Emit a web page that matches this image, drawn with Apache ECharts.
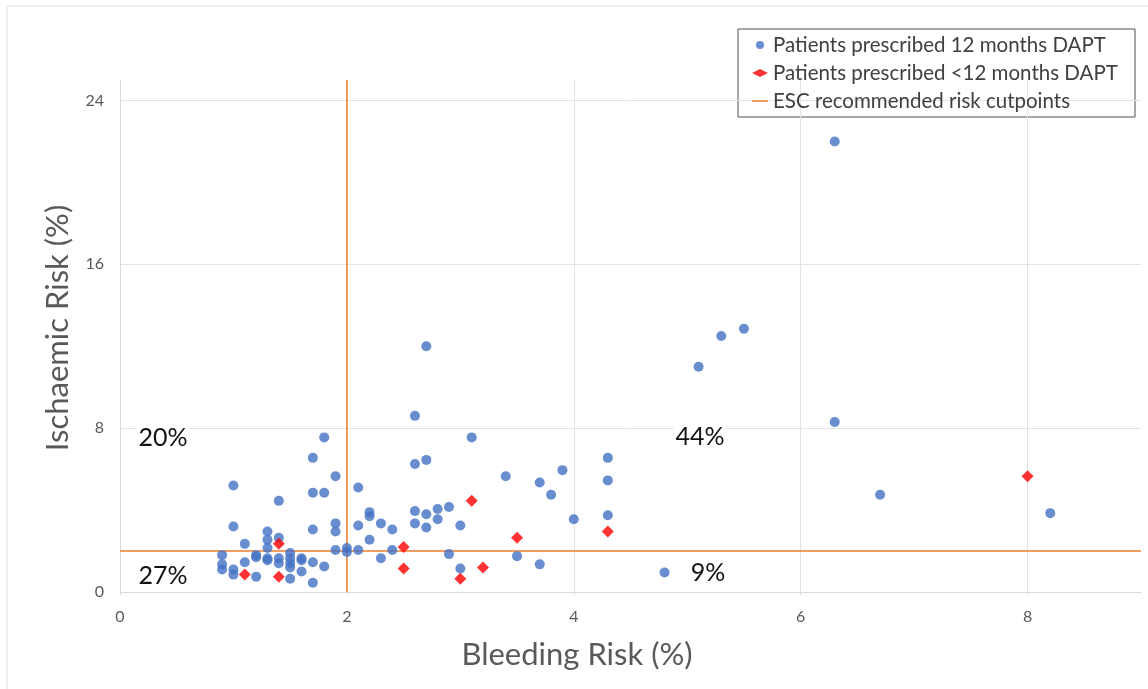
<!DOCTYPE html>
<html>
<head>
<meta charset="utf-8">
<script src="https://cdn.jsdelivr.net/npm/echarts@6/dist/echarts.min.js"></script>
<style>html,body{margin:0;padding:0;background:#fff}#c{width:1148px;height:689px}</style>
</head>
<body>
<div id="c"></div>
<script>
// Patients prescribed 12 months DAPT: [bleeding risk %, ischaemic risk %]
const blue12 = [
  [0.9,1.8],[0.9,1.35],[0.9,1.1],[1.0,5.2],[1.0,3.2],[1.0,1.1],[1.0,0.85],
  [1.1,2.35],[1.1,1.45],[1.2,1.8],[1.2,1.7],[1.2,0.75],
  [1.3,2.95],[1.3,2.55],[1.3,2.15],[1.3,1.65],[1.3,1.55],
  [1.4,4.45],[1.4,2.65],[1.4,1.65],[1.4,1.4],
  [1.5,1.9],[1.5,1.65],[1.5,1.4],[1.5,1.2],[1.5,0.65],
  [1.6,1.65],[1.6,1.55],[1.6,1.0],
  [1.7,6.55],[1.7,4.85],[1.7,3.05],[1.7,1.45],[1.7,0.45],
  [1.8,7.55],[1.8,4.85],[1.8,1.25],
  [1.9,5.65],[1.9,3.35],[1.9,2.95],[1.9,2.05],
  [2.0,2.15],[2.0,1.95],
  [2.1,5.1],[2.1,3.25],[2.1,2.05],
  [2.2,3.9],[2.2,3.7],[2.2,2.55],
  [2.3,3.35],[2.3,1.65],[2.4,3.05],[2.4,2.05],
  [2.6,8.6],[2.6,6.25],[2.6,3.95],[2.6,3.35],
  [2.7,12.0],[2.7,6.45],[2.7,3.8],[2.7,3.15],
  [2.8,4.05],[2.8,3.55],[2.9,4.15],[2.9,1.85],
  [3.0,3.25],[3.0,1.15],[3.1,7.55],
  [3.4,5.65],[3.5,1.75],[3.7,5.35],[3.7,1.35],[3.8,4.75],[3.9,5.95],[4.0,3.55],
  [4.3,6.55],[4.3,5.45],[4.3,3.75],[4.8,0.95],
  [5.1,11.0],[5.3,12.5],[5.5,12.85],[6.3,22.0],[6.3,8.3],[6.7,4.75],[8.2,3.85]
];
// Patients prescribed <12 months DAPT
const redLess12 = [
  [1.1,0.85],[1.4,2.35],[1.4,0.75],[2.5,2.2],[2.5,1.15],[3.0,0.65],
  [3.1,4.45],[3.2,1.2],[3.5,2.65],[4.3,2.95],[8.0,5.65]
];
// ESC recommended risk cutpoints
const cutBleeding = 2;
const cutIschaemic = 2;
// Axis ranges / ticks
const xRange = [0, 9], xStep = 2;
const yRange = [0, 25], yStep = 8;
// Quadrant percentages
const quadrantLabels = ['20%', '44%', '27%', '9%'];
const seriesNames = ['Patients prescribed 12 months DAPT', 'Patients prescribed <12 months DAPT', 'ESC recommended risk cutpoints'];

const FONT = 'Lato, "Open Sans", sans-serif';
const chart = echarts.init(document.getElementById('c'), null, {renderer: 'canvas'});
const axisCommon = {
  type: 'value',
  axisLine: {show: true, lineStyle: {color: '#d9d9d9', width: 1}},
  axisTick: {show: true, length: 3, lineStyle: {color: '#d9d9d9'}},
  splitLine: {show: true, showMaxLine: false, lineStyle: {color: '#e3e3e3', width: 1}},
  axisLabel: {color: '#595959', fontSize: 16, fontFamily: FONT, showMaxLabel: false}
};
const quadStyle = (t) => ({text: t, fill: '#111', font: '25px ' + FONT, textAlign: 'center', textVerticalAlign: 'middle', backgroundColor: '#fff', padding: [0, 2]});
const option = {
  backgroundColor: '#fff',
  animation: false,
  grid: {left: 120, right: 7, top: 80, bottom: 97, containLabel: false},
  xAxis: Object.assign({}, axisCommon, {min: xRange[0], max: xRange[1], interval: xStep,
    axisLabel: Object.assign({}, axisCommon.axisLabel, {margin: 17})}),
  yAxis: Object.assign({}, axisCommon, {min: yRange[0], max: yRange[1], interval: yStep,
    axisTick: {show: false},
    axisLabel: Object.assign({}, axisCommon.axisLabel, {margin: 16})}),
  legend: {
    orient: 'vertical', left: 752, top: 34, padding: 0, itemGap: 6,
    itemWidth: 16, itemHeight: 8,
    textStyle: {color: '#404040', fontSize: 20.5, fontFamily: FONT, lineHeight: 22},
    data: [
      {name: seriesNames[0], icon: 'circle'},
      {name: seriesNames[1], icon: 'diamond', itemStyle: {color: '#ff0000'}},
      {name: seriesNames[2], icon: 'path://M0,0H16V1.5H0Z'}
    ]
  },
  series: [
    {name: seriesNames[2], type: 'line', symbol: 'none', silent: true,
     lineStyle: {color: '#ED7D31', width: 1.5}, itemStyle: {color: '#ED7D31'},
     data: [[cutBleeding, yRange[0]], [cutBleeding, yRange[1]]], z: 1},
    {name: seriesNames[2], type: 'line', symbol: 'none', silent: true,
     lineStyle: {color: '#ED7D31', width: 1.5}, itemStyle: {color: '#ED7D31'},
     data: [[xRange[0], cutIschaemic], [xRange[1], cutIschaemic]], z: 1},
    {name: seriesNames[0], type: 'scatter', symbol: 'circle', symbolSize: 10,
     itemStyle: {color: '#4472C4'}, data: blue12, z: 3},
    {name: seriesNames[1], type: 'scatter', symbol: 'diamond', symbolSize: 12,
     itemStyle: {color: '#ff0000'}, data: redLess12, z: 4}
  ],
  graphic: [
    {type: 'line', shape: {x1: 7, y1: 6, x2: 1148, y2: 6}, style: {stroke: '#e0e0e0', lineWidth: 1}},
    {type: 'line', shape: {x1: 7, y1: 6, x2: 7, y2: 689}, style: {stroke: '#e0e0e0', lineWidth: 1}},
    {type: 'rect', shape: {x: 738, y: 29, width: 397, height: 88}, style: {fill: '#fff', stroke: '#505050', lineWidth: 1}, z: -1},
    {type: 'text', x: 577, y: 655, style: {text: 'Bleeding Risk (%)', fill: '#595959', font: '31px ' + FONT, textAlign: 'center', textVerticalAlign: 'middle'}},
    {type: 'text', x: 58, y: 328, rotation: Math.PI / 2, style: {text: 'Ischaemic Risk (%)', fill: '#595959', font: '31px ' + FONT, textAlign: 'center', textVerticalAlign: 'middle'}},
    {type: 'text', x: 163, y: 438, z: 10, style: quadStyle(quadrantLabels[0])},
    {type: 'text', x: 700, y: 437, z: 10, style: quadStyle(quadrantLabels[1])},
    {type: 'text', x: 163, y: 576, z: 10, style: quadStyle(quadrantLabels[2])},
    {type: 'text', x: 708, y: 573, z: 10, style: quadStyle(quadrantLabels[3])}
  ]
};
chart.setOption(option);
</script>
</body>
</html>
